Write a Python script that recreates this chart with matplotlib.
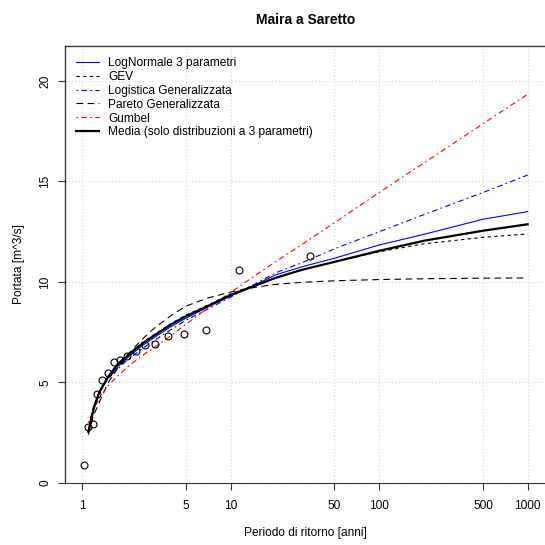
import matplotlib
matplotlib.use("Agg")
import matplotlib.pyplot as plt

plt.rcParams["font.family"] = ["Liberation Sans", "DejaVu Sans"]

# return periods [anni] where the fitted curves were read
T_curve = [1.1, 1.2, 1.3, 1.5, 1.75, 2, 2.5, 3, 4, 5, 7, 10, 15, 20, 30, 50, 100, 200, 500, 1000]

lognormale = [2.6, 3.8, 4.5, 5.25, 5.8, 6.2, 6.8, 7.2, 7.8, 8.2, 8.75, 9.3, 9.9, 10.35, 10.75, 11.18, 11.84, 12.37, 13.12, 13.5]
gev = [2.5, 3.7, 4.45, 5.3, 5.9, 6.3, 6.95, 7.35, 7.95, 8.35, 8.85, 9.4, 9.9, 10.2, 10.6, 11.0, 11.5, 11.9, 12.22, 12.39]
logistica = [2.7, 3.85, 4.5, 5.2, 5.7, 6.1, 6.65, 7.05, 7.65, 8.1, 8.65, 9.25, 9.95, 10.45, 10.95, 11.65, 12.5, 13.35, 14.45, 15.32]
pareto = [2.4, 3.4, 4.0, 5.0, 5.75, 6.35, 7.1, 7.65, 8.35, 8.8, 9.2, 9.5, 9.75, 9.88, 9.98, 10.06, 10.12, 10.16, 10.19, 10.2]
gumbel = [3.0, 3.7, 4.2, 4.85, 5.35, 5.75, 6.3, 6.7, 7.35, 7.9, 8.7, 9.48, 10.38, 11.0, 11.85, 12.95, 14.45, 15.92, 17.87, 19.34]
media = [2.55, 3.75, 4.5, 5.3, 5.95, 6.3, 6.9, 7.3, 7.9, 8.3, 8.8, 9.35, 9.85, 10.2, 10.6, 11.0, 11.55, 12.05, 12.55, 12.87]

# observed annual maxima with their plotting positions
T_obs = [1.03, 1.10, 1.19, 1.26, 1.36, 1.49, 1.63, 1.79, 2.0, 2.30, 2.63, 3.10, 3.81, 4.88, 6.81, 11.3, 34.0]
Q_obs = [0.90, 2.80, 2.92, 4.41, 5.11, 5.49, 6.00, 6.10, 6.30, 6.58, 6.88, 6.90, 7.30, 7.41, 7.60, 10.61, 11.29]

x_ticks = [1, 5, 10, 50, 100, 500, 1000]
y_ticks = [0, 5, 10, 15, 20]

fig = plt.figure(figsize=(5.45, 5.45), dpi=100)
ax = fig.add_axes([0.120, 0.1138, 0.882, 0.8018])

ax.set_xscale("log")
ax.set_xlim(10 ** -0.113, 10 ** 3.124)
ax.set_ylim(0, 21.74)

for xt in x_ticks:
    ax.axvline(xt, color="#d3d3d3", lw=0.8, ls=(0, (1, 2)), zorder=0)
for yt in y_ticks:
    ax.axhline(yt, color="#d3d3d3", lw=0.8, ls=(0, (1, 2)), zorder=0)

ax.plot(T_curve, lognormale, color="blue", lw=0.8, label="LogNormale 3 parametri")
ax.plot(T_curve, gev, color="black", lw=0.8, ls=(0, (3, 3)), label="GEV")
ax.plot(T_curve, logistica, color="blue", lw=0.8, ls=(0, (1.5, 3, 5, 3)), label="Logistica Generalizzata")
ax.plot(T_curve, pareto, color="black", lw=0.8, ls=(0, (6, 4)), label="Pareto Generalizzata")
ax.plot(T_curve, gumbel, color="red", lw=0.8, ls=(0, (1.5, 3, 5, 3)), label="Gumbel")
ax.plot(T_curve, media, color="black", lw=1.6, label="Media (solo distribuzioni a 3 parametri)")

ax.plot(T_obs, Q_obs, ls="none", marker="o", ms=5, mfc="none", mec="black", mew=0.8)

ax.set_xticks(x_ticks)
ax.set_xticklabels([str(v) for v in x_ticks])
ax.minorticks_off()
ax.set_yticks(y_ticks)
ax.set_yticklabels([str(v) for v in y_ticks], rotation=90, va="center")
ax.tick_params(axis="both", direction="out", length=5, width=0.8, labelsize=8.6, color="#333333")
ax.tick_params(axis="x", pad=7)
ax.tick_params(axis="y", pad=5)

ax.spines["right"].set_visible(False)
for side in ["left", "top"]:
    ax.spines[side].set_linewidth(1.0)
    ax.spines[side].set_color("#333333")
ax.spines["bottom"].set_linestyle((0, (1.5, 1)))
ax.spines["bottom"].set_linewidth(0.8)
ax.spines["bottom"].set_color("#333333")

ax.set_title("Maira a Saretto", fontsize=10, fontweight="bold", pad=16)
ax.set_xlabel("Periodo di ritorno [anni]", fontsize=8.6)
ax.xaxis.set_label_coords(0.5, -0.101)
ax.set_ylabel("Portata [m^3/s]", fontsize=8.6)
ax.yaxis.set_label_coords(-0.084, 0.5)

ax.legend(loc="upper left", bbox_to_anchor=(0.022, 0.975), frameon=False, fontsize=8.6,
          handlelength=1.9, handletextpad=0.8, labelspacing=0.16, borderpad=0, borderaxespad=0)

fig.savefig("out.png", dpi=100, facecolor="white")
